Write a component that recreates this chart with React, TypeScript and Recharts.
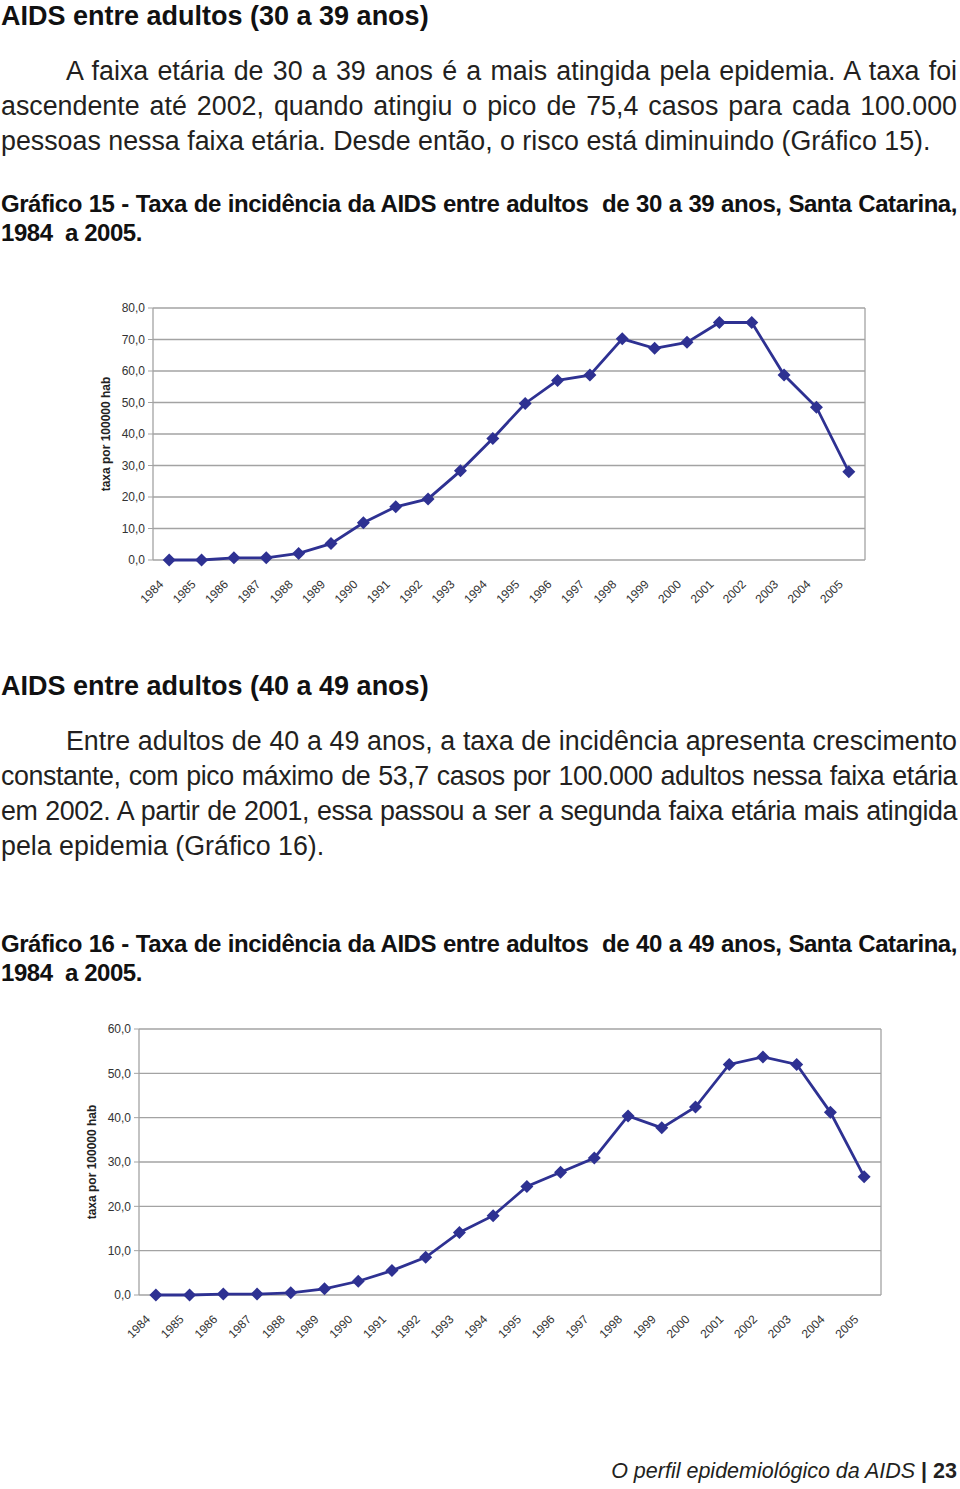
import { CartesianGrid, Line, LineChart, XAxis, YAxis } from "recharts";

const anos = [
  "1984", "1985", "1986", "1987", "1988", "1989", "1990", "1991", "1992", "1993", "1994",
  "1995", "1996", "1997", "1998", "1999", "2000", "2001", "2002", "2003", "2004", "2005",
];

// taxa por 100000 hab, 30 a 39 anos (Gráfico 15)
const taxa30a39 = [
  0, 0, 0.7, 0.7, 2.1, 5.2, 11.8, 16.9, 19.4, 28.3, 38.6,
  49.7, 57.0, 58.7, 70.2, 67.2, 69.1, 75.4, 75.4, 58.7, 48.5, 28.0,
];

// taxa por 100000 hab, 40 a 49 anos (Gráfico 16)
const taxa40a49 = [
  0, 0, 0.2, 0.2, 0.5, 1.4, 3.1, 5.5, 8.5, 14.1, 17.9,
  24.5, 27.7, 30.9, 40.4, 37.7, 42.4, 52.0, 53.7, 52.0, 41.2, 26.7,
];

const ticks30a39 = [0, 10, 20, 30, 40, 50, 60, 70, 80];
const ticks40a49 = [0, 10, 20, 30, 40, 50, 60];
// limites entre as categorias (marcas do eixo x)
const divisoes = [0, 1, 2, 3, 4, 5, 6, 7, 8, 9, 10, 11, 12, 13, 14, 15, 16, 17, 18, 19, 20, 21, 22];

const NAVY = "#2E3192";
const GRID = "#a3a3a3";
const TEXT = "#231f20";
const FONT = '"Liberation Sans", Arial, Helvetica, sans-serif';

const fmt = (v: number) => v.toFixed(1).replace(".", ",");

const Diamond = (props: any) => {
  const { cx, cy, index } = props;
  if (cx == null || cy == null) return <g key={index} />;
  const r = 6.5;
  return (
    <polygon
      key={index}
      points={`${cx},${cy - r} ${cx + r},${cy} ${cx},${cy + r} ${cx - r},${cy}`}
      fill={NAVY}
    />
  );
};

const YearTick = ({ x, y, payload }: any) => (
  <g transform={`translate(${x - 5},${y + 17}) rotate(-45)`}>
    <text textAnchor="end" fontSize={12} fill="#333" fontFamily={FONT}>
      {payload.value}
    </text>
  </g>
);

type ChartProps = {
  valores: number[];
  ticks: number[];
  width: number;
  height: number;
  top: number;
};

function TaxaChart({ valores, ticks, width, height, top }: ChartProps) {
  const data = anos.map((ano, i) => ({ ano, taxa: valores[i] }));
  const max = ticks[ticks.length - 1];
  return (
    <LineChart
      width={width}
      height={height}
      data={data}
      margin={{ top, right: 15, bottom: 0, left: 0 }}
      style={{ fontFamily: FONT }}
    >
      <CartesianGrid
        stroke={GRID}
        strokeWidth={1.3}
        verticalCoordinatesGenerator={({ offset }: any) => [offset.left + offset.width]}
      />
      <XAxis
        xAxisId="div"
        type="number"
        domain={[0, 22]}
        allowDataOverflow
        ticks={divisoes}
        interval={0}
        tick={false}
        tickSize={5}
        tickLine={{ stroke: GRID }}
        axisLine={{ stroke: GRID, strokeWidth: 1.3 }}
        height={0}
      />
      <XAxis
        dataKey="ano"
        scale="band"
        interval={0}
        axisLine={false}
        tickLine={false}
        tick={<YearTick />}
        height={60}
      />
      <YAxis
        domain={[0, max]}
        ticks={ticks}
        interval={0}
        tickFormatter={fmt}
        width={93}
        tickSize={5}
        tickMargin={3}
        axisLine={{ stroke: GRID, strokeWidth: 1.3 }}
        tickLine={{ stroke: GRID }}
        tick={{ fill: "#333", fontSize: 12, fontFamily: FONT }}
        label={{
          value: "taxa por 100000 hab",
          angle: -90,
          position: "insideLeft",
          offset: 46,
          style: { textAnchor: "middle", fontWeight: "bold", fontSize: 12, fill: "#222", fontFamily: FONT },
        }}
      />
      <Line
        type="linear"
        dataKey="taxa"
        stroke={NAVY}
        strokeWidth={2.8}
        dot={<Diamond />}
        activeDot={false}
        isAnimationActive={false}
      />
    </LineChart>
  );
}

type LineProps = {
  top: number;
  left?: number;
  right?: number;
  size: number;
  lh: number;
  bold?: boolean;
  justify?: boolean;
  spacing?: number;
  color?: string;
  children: any;
};

const TextLine = ({
  top, left = 1, right = 957, size, lh, bold = false, justify = true, spacing = 0, color = TEXT, children,
}: LineProps) => (
  <div
    style={{
      position: "absolute",
      left,
      top,
      width: right - left,
      fontSize: size,
      lineHeight: `${lh}px`,
      fontWeight: bold ? "bold" : "normal",
      whiteSpace: "nowrap",
      textAlign: justify ? "justify" : "left",
      textAlignLast: justify ? "justify" : "left",
      letterSpacing: spacing,
      fontFamily: FONT,
      color,
    }}
  >
    {children}
  </div>
);

const BODY = 26.8;

export default function App() {
  return (
    <div style={{ position: "absolute", left: 0, top: 0, width: 960, height: 1489, background: "#fff" }}>
      <TextLine top={0} size={27} lh={32} bold justify={false} color="#111">
        AIDS entre adultos (30 a 39 anos)
      </TextLine>
      <TextLine top={54} left={66} size={BODY} lh={35}>
        A faixa etária de 30 a 39 anos é a mais atingida pela epidemia. A taxa foi
      </TextLine>
      <TextLine top={89} size={BODY} lh={35}>
        ascendente até 2002, quando atingiu o pico de 75,4 casos para cada 100.000
      </TextLine>
      <TextLine top={124} size={BODY} lh={35} justify={false}>
        pessoas nessa faixa etária. Desde então, o risco está diminuindo (Gráfico 15).
      </TextLine>
      <TextLine top={189} size={24} lh={29} bold spacing={-0.45} color="#111">
        Gráfico 15 - Taxa de incidência da AIDS entre adultos{"\u00a0"} de 30 a 39 anos, Santa Catarina,
      </TextLine>
      <TextLine top={218} size={24} lh={29} bold spacing={-0.45} justify={false} color="#111">
        1984{"\u00a0"} a 2005.
      </TextLine>

      <div style={{ position: "absolute", left: 60, top: 290 }}>
        <TaxaChart valores={taxa30a39} ticks={ticks30a39} width={820} height={330} top={18} />
      </div>

      <TextLine top={670} size={27} lh={32} bold justify={false} color="#111">
        AIDS entre adultos (40 a 49 anos)
      </TextLine>
      <TextLine top={724} left={66} size={BODY} lh={35}>
        Entre adultos de 40 a 49 anos, a taxa de incidência apresenta crescimento
      </TextLine>
      <TextLine top={759} size={BODY} lh={35} spacing={-0.4}>
        constante, com pico máximo de 53,7 casos por 100.000 adultos nessa faixa etária
      </TextLine>
      <TextLine top={794} size={BODY} lh={35} spacing={-0.4}>
        em 2002. A partir de 2001, essa passou a ser a segunda faixa etária mais atingida
      </TextLine>
      <TextLine top={829} size={BODY} lh={35} justify={false}>
        pela epidemia (Gráfico 16).
      </TextLine>
      <TextLine top={929} size={24} lh={29} bold spacing={-0.45} color="#111">
        Gráfico 16 - Taxa de incidência da AIDS entre adultos{"\u00a0"} de 40 a 49 anos, Santa Catarina,
      </TextLine>
      <TextLine top={958} size={24} lh={29} bold spacing={-0.45} justify={false} color="#111">
        1984{"\u00a0"} a 2005.
      </TextLine>

      <div style={{ position: "absolute", left: 46, top: 1010 }}>
        <TaxaChart valores={taxa40a49} ticks={ticks40a49} width={850} height={345} top={19} />
      </div>

      <div
        style={{
          position: "absolute",
          right: 3,
          top: 1458,
          fontSize: 21.5,
          lineHeight: "26px",
          fontFamily: FONT,
          fontStyle: "italic",
          color: TEXT,
          whiteSpace: "nowrap",
        }}
      >
        O perfil epidemiológico da AIDS <span style={{ fontStyle: "normal", fontWeight: "bold" }}>| 23</span>
      </div>
    </div>
  );
}
